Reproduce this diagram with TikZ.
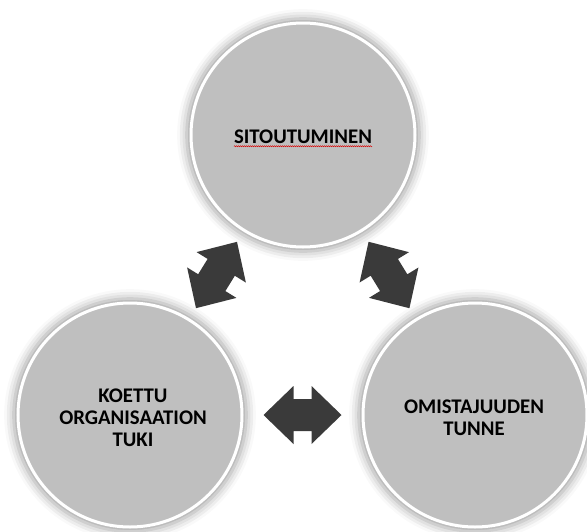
\documentclass[tikz,border=0pt]{standalone}
\usepackage{fontspec}
\setmainfont{Carlito}
\usetikzlibrary{calc,shadows.blur,decorations.pathmorphing}
\definecolor{circfill}{RGB}{191,191,191}
\definecolor{arrowfill}{RGB}{58,58,58}
\tikzset{
  circ/.style={circle, fill=circfill, draw=white, line width=3pt, minimum size=224pt, inner sep=0pt,
    blur shadow={shadow xshift=0pt, shadow yshift=0pt, shadow blur radius=9pt, shadow scale=1.04, shadow opacity=38}},
  lbl/.style={inner sep=0pt, align=center, font=\fontsize{20.8}{22}\selectfont\bfseries},
  squiggle/.style={red!85!black, line width=0.4pt, decorate, decoration={snake, amplitude=0.6pt, segment length=2pt}},
  dblarrow/.pic={\fill[arrowfill] (-39,0) -- (-9,29) -- (-9,16) -- (9,16) -- (9,29) -- (39,0) -- (9,-29) -- (9,-16) -- (-9,-16) -- (-9,-29) -- cycle;}
}
\begin{document}
\begin{tikzpicture}[x=1pt,y=-1pt]
\useasboundingbox (0,0) rectangle (587,531);
\node[circ] (top) at (303,135) {};
\node[circ] (left) at (130,415) {};
\node[circ] (right) at (475,415) {};
\node[lbl] (ttxt) at (303,137) {SITOUTUMINEN};
\node[lbl] (ltxt) at (133,418) {KOETTU\\ORGANISAATION\\TUKI};
\node[lbl] (rtxt) at (474,418) {OMISTAJUUDEN\\TUNNE};
\draw[squiggle] ([yshift=-2.5pt]ttxt.base west) -- ([yshift=-2.5pt]ttxt.base east);
\path let \p1=($(left)-(top)$), \n1={atan2(\y1,\x1)} in ($(top)!0.5!(left)$) pic[rotate=\n1] {dblarrow};
\path let \p1=($(right)-(top)$), \n1={atan2(\y1,\x1)} in ($(top)!0.5!(right)$) pic[rotate=\n1] {dblarrow};
\path let \p1=($(right)-(left)$), \n1={atan2(\y1,\x1)} in ($(left)!0.5!(right)$) pic[rotate=\n1] {dblarrow};
\end{tikzpicture}
\end{document}
